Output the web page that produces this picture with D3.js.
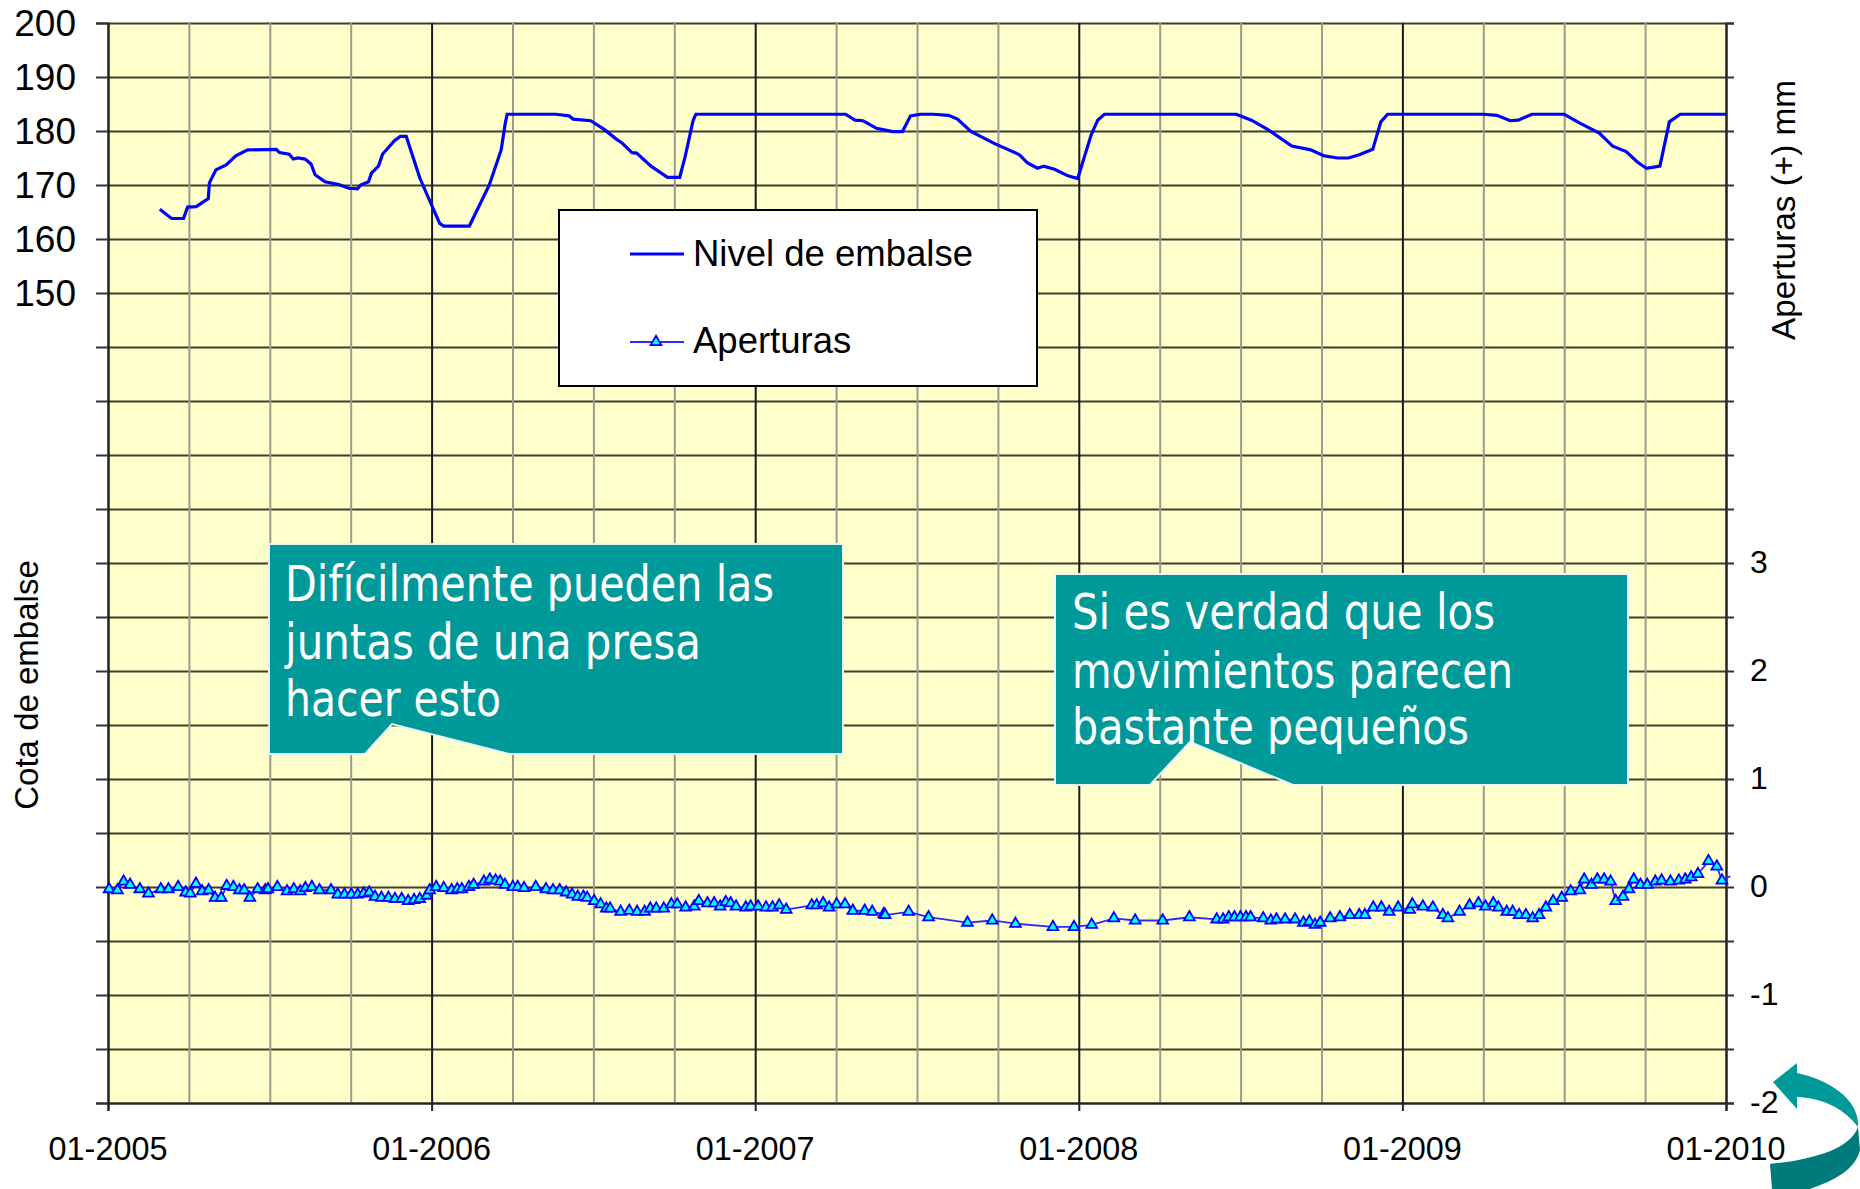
<!DOCTYPE html>
<html><head><meta charset="utf-8">
<script src="https://cdn.jsdelivr.net/npm/d3@7"></script>
<style>html,body{margin:0;padding:0;background:#fff}svg{display:block}
text{font-family:"Liberation Sans",Arial,sans-serif;fill:#000}</style></head>
<body><svg id="c" width="1860" height="1189"></svg>
<script>
const xTickLabels=["01-2005","01-2006","01-2007","01-2008","01-2009","01-2010"];
const legendLabels=["Nivel de embalse","Aperturas"];
const leftTitle="Cota de embalse", rightTitle="Aperturas (+) mm";
const note1=["Difícilmente pueden las","juntas de una presa","hacer esto"];
const note2=["Si es verdad que los","movimientos parecen","bastante pequeños"];
// months since 01-2005
const levelMonths=[1.92,2.36,2.8,2.95,3.27,3.72,3.76,4.0,4.38,4.74,5.18,6.24,6.36,6.72,6.87,7.05,7.31,7.53,7.68,8.05,8.56,8.93,9.25,9.37,9.66,9.77,10.03,10.18,10.62,10.84,11.06,11.57,12.3,12.45,13.4,14.14,14.58,14.73,14.8,16.6,17.1,17.25,17.9,18.4,18.85,19.06,19.43,19.6,20.16,20.75,21.2,21.4,21.7,21.8,27.35,27.7,28.0,28.5,29.1,29.46,29.76,30.13,30.6,31.17,31.5,32,32.86,33.8,34.1,34.47,34.7,35.1,35.6,35.96,36.46,36.7,36.95,41.84,42.4,43,43.9,44.6,45.1,45.6,46,46.4,46.9,47.2,47.45,51,51.5,52,52.3,52.8,54,54.6,55.3,55.8,56.3,56.7,57.05,57.55,57.9,58.3,60];
const levelValues=[165.5,163.8,163.8,165.9,166,167.5,170.4,172.8,173.7,175.4,176.5,176.6,176,175.7,174.8,175,174.8,173.9,171.9,170.6,170.1,169.4,169.3,170,170.6,172.2,173.5,175.7,178.2,179,179,171.2,162.9,162.4,162.4,170,176.5,181.4,183.1,183.1,182.8,182.2,181.9,180.3,178.5,177.8,176,175.9,173.4,171.4,171.4,175.2,182,183.1,183.1,182,181.9,180.5,179.9,179.9,182.8,183.1,183.1,182.9,182.2,179.9,177.7,175.6,174.1,173.1,173.5,172.9,171.7,171.2,179.3,182,183.1,183.1,182,180.3,177.2,176.5,175.4,175,175,175.6,176.6,181.7,183.1,183.1,182.9,181.9,182,183.1,183.1,181.4,179.6,177.2,176.2,174.3,173.1,173.5,181.7,183.1,183.1];
const openMonths=[0.04,0.35,0.58,0.82,1.18,1.5,1.96,2.24,2.6,2.88,3.05,3.26,3.49,3.73,3.97,4.2,4.4,4.65,4.87,5.05,5.26,5.55,5.83,5.93,6.28,6.64,6.89,7.13,7.32,7.56,7.84,8.27,8.52,8.77,9.02,9.26,9.48,9.69,9.9,10.14,10.4,10.64,10.89,11.13,11.35,11.56,11.82,11.93,12.17,12.45,12.74,12.95,13.12,13.38,13.56,13.94,14.16,14.37,14.54,14.72,15.01,15.19,15.43,15.86,16.24,16.5,16.75,16.99,17.21,17.42,17.63,17.77,18.03,18.27,18.48,18.62,19.01,19.33,19.62,19.9,20.11,20.33,20.61,20.89,21.11,21.42,21.74,21.91,22.23,22.48,22.7,22.91,23.09,23.29,23.65,23.83,24.11,24.4,24.64,24.89,25.15,26.1,26.28,26.52,26.74,27.02,27.33,27.62,28.06,28.34,28.77,28.82,29.69,30.43,31.87,32.79,33.65,35.04,35.82,36.48,37.3,38.09,39.11,40.1,41.11,41.35,41.56,41.77,41.99,42.2,42.37,42.84,43.12,43.33,43.65,44.02,44.33,44.55,44.76,44.95,45.32,45.68,46.05,46.4,46.61,46.92,47.22,47.51,47.84,48.27,48.37,48.76,49.13,49.5,49.69,50.12,50.49,50.82,51.08,51.37,51.56,51.87,52.09,52.33,52.58,52.83,53.07,53.32,53.59,53.91,54.24,54.58,54.74,55.01,55.23,55.48,55.72,55.91,56.18,56.4,56.58,56.83,57.08,57.38,57.61,57.94,58.25,58.49,58.71,58.96,59.35,59.66,59.85,60.16];
const openValues=[-0.02,-0.03,0.05,0.02,-0.02,-0.06,-0.02,-0.02,0,-0.05,-0.06,0.03,-0.04,-0.03,-0.10,-0.10,0.01,0,-0.03,-0.03,-0.10,-0.02,-0.03,-0.02,0,-0.04,-0.02,-0.04,-0.01,0,-0.03,-0.03,-0.07,-0.07,-0.07,-0.07,-0.06,-0.05,-0.09,-0.10,-0.10,-0.11,-0.11,-0.13,-0.12,-0.11,-0.08,-0.03,0,-0.01,-0.03,-0.02,-0.02,0,0.02,0.05,0.07,0.06,0.05,0.02,0,0,-0.01,0,-0.02,-0.03,-0.03,-0.05,-0.07,-0.09,-0.09,-0.10,-0.13,-0.16,-0.20,-0.20,-0.23,-0.22,-0.23,-0.23,-0.20,-0.20,-0.20,-0.16,-0.16,-0.19,-0.18,-0.13,-0.15,-0.15,-0.18,-0.14,-0.15,-0.18,-0.19,-0.18,-0.18,-0.19,-0.19,-0.17,-0.21,-0.17,-0.17,-0.15,-0.19,-0.16,-0.16,-0.22,-0.22,-0.23,-0.25,-0.26,-0.23,-0.28,-0.33,-0.31,-0.34,-0.37,-0.37,-0.35,-0.29,-0.31,-0.31,-0.28,-0.30,-0.30,-0.28,-0.28,-0.28,-0.28,-0.28,-0.29,-0.31,-0.30,-0.30,-0.30,-0.33,-0.32,-0.35,-0.33,-0.29,-0.28,-0.26,-0.26,-0.26,-0.19,-0.19,-0.23,-0.19,-0.21,-0.16,-0.18,-0.19,-0.26,-0.29,-0.23,-0.17,-0.15,-0.18,-0.15,-0.19,-0.23,-0.23,-0.26,-0.26,-0.29,-0.26,-0.19,-0.13,-0.10,-0.04,-0.03,0.07,0.02,0.07,0.07,0.05,-0.13,-0.09,-0.02,0.07,0.02,0.02,0.05,0.06,0.05,0.06,0.07,0.09,0.12,0.24,0.19,0.06,0.10];

const L=108,R=1726,T=23,B=1103;
const svg=d3.select("#c");
const x=d3.scaleLinear().domain([0,60]).range([L,R]);
const yL=d3.scaleLinear().domain([0,200]).range([B,T]);
const yR=d3.scaleLinear().domain([-2,8]).range([B,T]);
const pts=(a,b)=>a.map((m,i)=>[m,b[i]]);
svg.append("rect").attr("x",L).attr("y",T).attr("width",R-L).attr("height",B-T).attr("fill","#ffffcc");

const quarters=d3.range(0,61,3);
const hg=svg.append("g").attr("transform",`translate(${L},0)`)
 .call(d3.axisLeft(yL).tickValues(d3.range(0,201,10)).tickSize(-(R-L)).tickFormat(""));
hg.select(".domain").remove();
hg.selectAll("line").attr("stroke","#3f3f2c").attr("stroke-width",2);
const vg=svg.append("g").attr("transform",`translate(0,${B})`)
 .call(d3.axisBottom(x).tickValues(quarters).tickSize(-(B-T)).tickFormat(""));
vg.select(".domain").remove();
vg.selectAll("line").attr("stroke",d=>d%12===0?"#1a1a1a":"#9a9a90").attr("stroke-width",2);

// axes
const la=svg.append("g").attr("transform",`translate(${L},0)`)
 .call(d3.axisLeft(yL).tickValues(d3.range(0,201,10)).tickSize(12).tickFormat(d=>d>=150?d:""));
la.select(".domain").attr("stroke","#222").attr("stroke-width",2);
la.selectAll("line").attr("stroke","#333").attr("stroke-width",2);
la.selectAll("text").attr("font-size",37).attr("x",-32).attr("dy","0.33em").style("font-family",'"Liberation Sans"');
const ra=svg.append("g").attr("transform",`translate(${R},0)`)
 .call(d3.axisRight(yR).tickValues(d3.range(-2,8.01,0.5)).tickSize(8).tickFormat(d=>Number.isInteger(d)&&d<=3?d:""));
ra.select(".domain").attr("stroke","#222").attr("stroke-width",2);
ra.selectAll("line").attr("stroke","#333").attr("stroke-width",2);
ra.selectAll("text").attr("font-size",32).attr("x",24).attr("dy","0.3em").attr("text-anchor","start").style("font-family",'"Liberation Sans"');
const ba=svg.append("g").attr("transform",`translate(0,${B})`)
 .call(d3.axisBottom(x).tickValues(quarters).tickSize(8).tickFormat(""));
ba.select(".domain").attr("stroke","#222").attr("stroke-width",2);
ba.selectAll("line").attr("stroke",d=>d%12===0?"#222":"none").attr("stroke-width",2);
svg.append("g").selectAll("text").data(xTickLabels).join("text")
 .attr("x",(d,i)=>x(i*12)).attr("y",1160).attr("text-anchor","middle").attr("font-size",32.4).text(d=>d);

// series
svg.append("path").attr("d",d3.line().x(d=>x(d[0])).y(d=>yL(d[1]))(pts(levelMonths,levelValues)))
 .attr("fill","none").attr("stroke","#0000ff").attr("stroke-width",3.2);
const op=pts(openMonths,openValues);
svg.append("path").attr("d",d3.line().x(d=>x(d[0])).y(d=>yR(d[1]))(op))
 .attr("fill","none").attr("stroke","#2a2aff").attr("stroke-width",1.8);
const tri=d3.symbol(d3.symbolTriangle).size(50);
svg.append("g").selectAll("path").data(op.slice(0,-1)).join("path")
 .attr("d",tri).attr("transform",d=>`translate(${x(d[0])},${yR(d[1])})`)
 .attr("fill","#00ffff").attr("stroke","#0000ff").attr("stroke-width",1.8);

// axis titles
svg.append("text").attr("transform","translate(38,685) rotate(-90)").attr("text-anchor","middle").attr("font-size",33).text(leftTitle);
svg.append("text").attr("transform","translate(1795,210) rotate(-90)").attr("text-anchor","middle").attr("font-size",33.3).text(rightTitle);

// legend
const lg=svg.append("g");
lg.append("rect").attr("x",559).attr("y",210).attr("width",478).attr("height",176).attr("fill","#fff").attr("stroke","#000").attr("stroke-width",2);
lg.append("line").attr("x1",630).attr("x2",684).attr("y1",254).attr("y2",254).attr("stroke","#0000ff").attr("stroke-width",3.2);
lg.append("line").attr("x1",630).attr("x2",684).attr("y1",342).attr("y2",342).attr("stroke","#2a2aff").attr("stroke-width",1.8);
lg.append("path").attr("d",tri).attr("transform","translate(656,342)").attr("fill","#00ffff").attr("stroke","#0000ff").attr("stroke-width",1.8);
lg.selectAll("text").data(legendLabels).join("text").attr("x",693).attr("y",(d,i)=>[266,353][i]).attr("font-size",36.5).text(d=>d);

// callouts
function callout(box,tail,lines,tx,bases,widths){
 const [x0,y0,x1,y1]=box;
 const p=[[x0,y0],[x1,y0],[x1,y1],[tail[2],y1],[tail[1],tail[3]],[tail[0],y1],[x0,y1]];
 svg.append("path").attr("d",d3.line()(p)+"Z").attr("fill","#009999").attr("stroke","#e8f6f4").attr("stroke-width",2);
 svg.append("g").selectAll("text").data(lines).join("text").attr("x",tx).attr("y",(d,i)=>bases[i])
  .attr("font-size",49).attr("textLength",(d,i)=>widths[i]).attr("lengthAdjust","spacingAndGlyphs")
  .style("font-family",'"DejaVu Sans Condensed","DejaVu Sans"').style("fill","#fff").text(d=>d);
}
callout([269,544,843,754],[365,392,509,724],note1,285,[601,659,716],[489,416,216]);
callout([1055,574,1628,785],[1150,1190,1293,742],note2,1072,[629,688,744],[423,441,397]);

// return arrow
svg.append("path").attr("d","M1858,1127 C1850,1150 1810,1160 1770,1164 L1772,1189 L1810,1189 C1835,1180 1855,1170 1860,1150 Z").attr("fill","#007b7b");
svg.append("path").attr("d","M1773,1082 L1797,1063 L1797,1073 C1830,1080 1860,1100 1858,1127 C1845,1110 1825,1098 1797,1097 L1797,1109 Z").attr("fill","#009999");
</script></body></html>
